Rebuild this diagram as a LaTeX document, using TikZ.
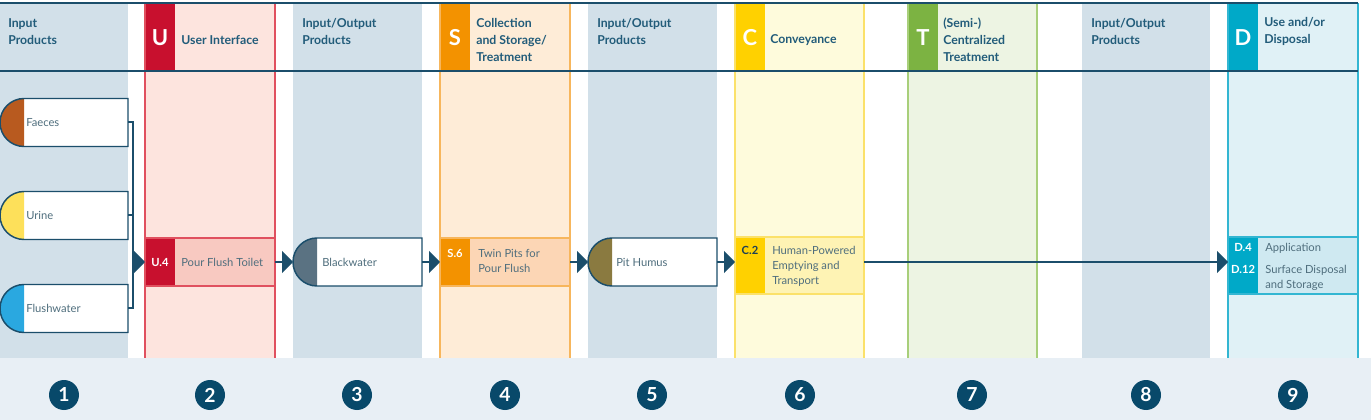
\documentclass[tikz,border=0pt]{standalone}
\usepackage{fontspec}
\setmainfont{Lato}
\usetikzlibrary{arrows.meta}
\definecolor{lineteal}{HTML}{1B4E6B}
\definecolor{hdrtext}{HTML}{225C7A}
\definecolor{boxtext}{HTML}{4F6E7D}
\definecolor{numcol}{HTML}{08496A}
\definecolor{colgrey}{HTML}{D2E0E9}
\definecolor{band}{HTML}{E8EFF5}
\definecolor{ured}{HTML}{C8102E}
\definecolor{ufill}{HTML}{FDE4DE}
\definecolor{uborder}{HTML}{E0505F}
\definecolor{ubox}{HTML}{F8C9C1}
\definecolor{sor}{HTML}{F39200}
\definecolor{sfill}{HTML}{FEECD7}
\definecolor{sborder}{HTML}{F7B65C}
\definecolor{sbox}{HTML}{FCD6B5}
\definecolor{cyel}{HTML}{FFD100}
\definecolor{cfill}{HTML}{FEFBDC}
\definecolor{cborder}{HTML}{FBE16A}
\definecolor{cboxc}{HTML}{FEF3B4}
\definecolor{ctxt}{HTML}{1C3F55}
\definecolor{tgr}{HTML}{7CB342}
\definecolor{tfill}{HTML}{EDF4E3}
\definecolor{tborder}{HTML}{A8CF7A}
\definecolor{dcy}{HTML}{00A9C8}
\definecolor{dfill}{HTML}{E0F1F6}
\definecolor{dborder}{HTML}{33B6D2}
\definecolor{dboxc}{HTML}{CFE9F1}
\definecolor{capF}{HTML}{B85A1F}
\definecolor{capU}{HTML}{FDE05A}
\definecolor{capW}{HTML}{2AA8E0}
\definecolor{capB}{HTML}{5A7282}
\definecolor{capP}{HTML}{8A7A40}
\newcommand{\prodshape}[2]{%
  \fill[white] ([xshift=18pt]#1.north west) rectangle (#1.south east);
  \fill[#2] ([xshift=18pt]#1.north west) arc[start angle=90,end angle=270,radius=18pt] -- cycle;
  \draw[pout] ([xshift=18pt]#1.north west) arc[start angle=90,end angle=270,radius=18pt] -- (#1.south east) -- (#1.north east) -- cycle;}
\begin{document}
\begin{tikzpicture}[x=0.75pt,y=0.75pt,
  hdr/.style={anchor=west, align=left, font=\fontsize{9.2}{12.75}\selectfont\bfseries, text=hdrtext, inner sep=0pt},
  letter/.style={font=\fontsize{16.5}{16.5}\selectfont\bfseries, text=white, inner sep=0pt},
  num/.style={circle, fill=numcol, minimum size=22.5pt, inner sep=0pt, text=white, font=\fontsize{14.5}{14.5}\selectfont\bfseries},
  pshape/.style={rectangle, minimum height=36pt, inner sep=0pt, outer sep=0pt},
  pout/.style={draw=lineteal, line width=1.1pt},
  ptext/.style={anchor=west, inner sep=0pt, font=\fontsize{8.4}{11.25}\selectfont, text=boxtext},
  cbox/.style={rectangle, inner sep=0pt, outer sep=0pt},
  bline/.style={line width=1.1pt},
  colb/.style={line width=1.1pt},
  ctext/.style={inner sep=0pt, font=\fontsize{8.4}{11.25}\selectfont\bfseries},
  btext/.style={inner sep=0pt, align=left, font=\fontsize{8.4}{11.25}\selectfont, text=boxtext},
  hline/.style={draw=lineteal, line width=1.5pt},
  conn/.style={draw=lineteal, line width=1.5pt},
  arr/.style={conn, -{Triangle[length=8.25pt, width=16.5pt]}}
]
\useasboundingbox (0,0) rectangle (1371,-420);
\fill[white] (0,0) rectangle (1371,-420);
\fill[band] (0,-358) rectangle (1371,-420);
% columns
\fill[colgrey] (0,-3) rectangle (128,-358);
\fill[colgrey] (293,-3) rectangle (422,-358);
\fill[colgrey] (588,-3) rectangle (717,-358);
\fill[colgrey] (1082,-3) rectangle (1210,-358);
\fill[ufill] (145,-3) rectangle (275,-358);
\fill[sfill] (440,-3) rectangle (570,-358);
\fill[cfill] (735,-3) rectangle (864,-358);
\fill[tfill] (908,-3) rectangle (1037,-358);
\fill[dfill] (1228,-3) rectangle (1358,-358);
% letter blocks
\fill[ured] (145,-3) rectangle (175,-71);
\fill[sor] (440,-3) rectangle (470,-71);
\fill[cyel] (735,-3) rectangle (765,-71);
\fill[tgr] (908,-3) rectangle (938,-71);
\fill[dcy] (1228,-3) rectangle (1258,-71);
% column borders
\draw[colb, draw=uborder] (145,-3) -- (145,-358) (275,-3) -- (275,-358);
\draw[colb, draw=sborder] (440,-3) -- (440,-358) (570,-3) -- (570,-358);
\draw[colb, draw=cborder] (735,-3) -- (735,-358) (864,-3) -- (864,-358);
\draw[colb, draw=tborder] (908,-3) -- (908,-358) (1037,-3) -- (1037,-358);
\draw[colb, draw=dborder] (1228,-3) -- (1228,-358) (1358,-3) -- (1358,-358);
% header lines
\draw[hline] (0,-3) -- (1358,-3);
\draw[hline] (0,-71) -- (1358,-71);
% letters
\node[letter] (lu) at (160,-38) {U};
\node[letter] (ls) at (455,-38) {S};
\node[letter] (lc) at (750,-38) {C};
\node[letter] (lt) at (923,-38) {T};
\node[letter] (ld) at (1243,-38) {D};
% header texts
\node[hdr] (h1) at (8,-31.5) {Input\\Products};
\node[hdr] (h2) at (181,-40) {User Interface};
\node[hdr] (h3) at (302,-31.5) {Input/Output\\Products};
\node[hdr] (h4) at (476,-40) {Collection\\and Storage/\\Treatment};
\node[hdr] (h5) at (597,-31.5) {Input/Output\\Products};
\node[hdr] (h6) at (770,-40) {Conveyance};
\node[hdr] (h7) at (943,-40) {(Semi-)\\Centralized\\Treatment};
\node[hdr] (h8) at (1091,-31.5) {Input/Output\\Products};
\node[hdr] (h9) at (1264,-31.5) {Use and/or\\Disposal};
% numbers
\node[num] (n1) at (64,-395) {1};
\node[num] (n2) at (210,-395) {2};
\node[num] (n3) at (357,-395) {3};
\node[num] (n4) at (505,-395) {4};
\node[num] (n5) at (652,-395) {5};
\node[num] (n6) at (800,-395) {6};
\node[num] (n7) at (972,-395) {7};
\node[num] (n8) at (1146,-395) {8};
\node[num] (n9) at (1293,-395) {9};
% input products
\node[pshape, minimum width=96pt] (faeces) at (64,-122.5) {};
\prodshape{faeces}{capF}
\node[ptext] (faecest) at (26,-122.5) {Faeces};
\node[pshape, minimum width=96pt] (urine) at (64,-215.5) {};
\prodshape{urine}{capU}
\node[ptext] (urinet) at (26,-215.5) {Urine};
\node[pshape, minimum width=96pt] (flush) at (64,-308.5) {};
\prodshape{flush}{capW}
\node[ptext] (flusht) at (26,-308.5) {Flushwater};
% blackwater
\node[pshape, minimum width=96.75pt] (bw) at (357.5,-262) {};
\prodshape{bw}{capB}
\node[ptext] (bwt) at (322,-262) {Blackwater};
% pit humus
\node[pshape, minimum width=96.75pt] (ph) at (652.5,-262) {};
\prodshape{ph}{capP}
\node[ptext] (pht) at (616,-262) {Pit Humus};
% U.4
\node[cbox, fill=ubox, minimum width=97.5pt, minimum height=36pt] (u4box) at (210,-262) {};
\fill[ured] (u4box.north west) rectangle ([xshift=22.5pt]u4box.south west);
\draw[bline, draw=uborder] (u4box.north west) rectangle (u4box.south east);
\node[ctext, text=white] (u4code) at (160,-262) {U.4};
\node[btext, anchor=west] (u4text) at (181,-262) {Pour Flush Toilet};
% S.6
\node[cbox, fill=sbox, minimum width=97.5pt, minimum height=36pt] (s6box) at (505,-262) {};
\fill[sor] (s6box.north west) rectangle ([xshift=22.5pt]s6box.south west);
\draw[bline, draw=sborder] (s6box.north west) rectangle (s6box.south east);
\node[ctext, anchor=north, text=white] (s6code) at (455,-246.5) {\strut S.6};
\node[btext, anchor=north west] (s6text) at (478,-246.5) {\strut Twin Pits for\\Pour Flush};
% C.2
\node[cbox, fill=cboxc, minimum width=96.75pt, minimum height=42.75pt] (c2box) at (799.5,-265.5) {};
\fill[cyel] (c2box.north west) rectangle ([xshift=22.5pt]c2box.south west);
\draw[bline, draw=cborder] (c2box.north west) rectangle (c2box.south east);
\node[ctext, anchor=north, text=ctxt] (c2code) at (750,-243.5) {\strut C.2};
\node[btext, anchor=north west] (c2text) at (772,-243.5) {\strut Human-Powered\\Emptying and\\Transport};
% D
\node[cbox, fill=dboxc, minimum width=97.5pt, minimum height=42.75pt] (dbox) at (1293,-265.5) {};
\fill[dcy] (dbox.north west) rectangle ([xshift=22.5pt]dbox.south west);
\draw[bline, draw=dborder] (dbox.north west) rectangle (dbox.south east);
\node[ctext, anchor=north, text=white] (d4code) at (1243,-240.5) {\strut D.4};
\node[btext, anchor=north west] (d4text) at (1265,-240.5) {\strut Application};
\node[ctext, anchor=north, text=white] (d12code) at (1243,-262.5) {\strut D.12};
\node[btext, anchor=north west] (d12text) at (1265,-262.5) {\strut Surface Disposal\\and Storage};
% connectors
\coordinate (bus) at (133,-262);
\draw[conn] (faeces.east) -| (bus) |- (flush.east);
\draw[conn] (urine.east) -- (urine.east -| bus);
\draw[arr] (bus) -- (u4box.west);
\draw[arr] (u4box.east) -- (bw.west);
\draw[arr] (bw.east) -- (s6box.west);
\draw[arr] (s6box.east) -- (ph.west);
\draw[arr] (ph.east) -- (ph.east -| c2box.west);
\draw[arr] ([yshift=2.625pt]c2box.east) -- ([yshift=2.625pt]dbox.west);
\end{tikzpicture}
\end{document}
